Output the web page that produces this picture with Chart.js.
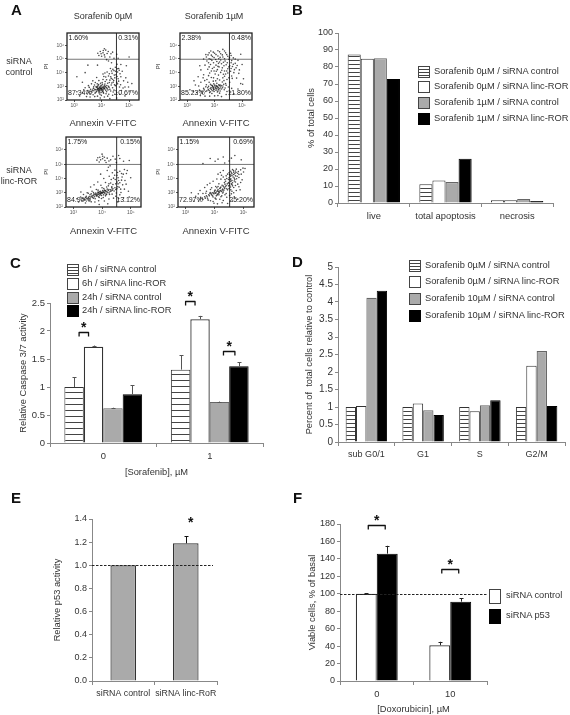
<!DOCTYPE html>
<html>
<head>
<meta charset="utf-8">
<script src="https://cdn.jsdelivr.net/npm/chart.js@4"></script>
<style>
html,body{margin:0;padding:0;background:#fff;overflow:hidden}
#page{position:relative;width:570px;height:715px;font-family:"Liberation Sans",Arial,sans-serif;color:#333;filter:blur(.35px)}
#page canvas{position:absolute}
.txt{position:absolute;white-space:nowrap;line-height:1;transform:translate(0,-50%)}
.ctr{transform:translate(-50%,-50%)}
.letter{font-size:15px;font-weight:bold;color:#111}
.sw{position:absolute;box-sizing:border-box;border:1.5px solid #444}
</style>
</head>
<body>
<div id="page"></div>
<script>
// panel A: scatter values read by eye (log10 annexin, log10 PI)
var flowCtl0 = [[3.97,2.85],[3.92,2.78],[4.02,2.92],[3.88,2.70],[4.08,2.80],[3.95,3.00],[3.85,2.88],[4.05,2.68],[3.78,2.75],[4.12,2.95],[3.90,2.60],[4.00,2.75],[3.82,2.62],[4.15,2.72],[3.93,2.93],[3.72,2.68],[4.20,2.85],[3.98,2.55],[3.87,3.05],[4.10,3.08],[3.70,2.85],[4.25,3.00],[3.80,2.98],[4.03,3.15],[3.65,2.58],[4.18,2.60],[3.94,2.42],[3.76,2.50],[4.07,2.50],[3.60,2.78],[4.30,2.78],[3.96,3.22],[4.22,3.22],[3.58,2.45],[4.35,3.10],[3.84,3.18],[4.13,3.35],[3.50,2.70],[4.40,2.90],[3.74,3.10],[3.99,2.82],[3.91,2.88],[4.04,2.79],[3.86,2.81],[4.09,2.87],[3.94,2.71],[4.01,3.02],[3.83,2.74],[4.30,3.45],[4.42,3.30],[4.05,3.50],[3.90,3.42],[4.48,3.62],[4.25,3.75],[4.38,3.95],[4.52,3.85],[4.15,3.68],[4.55,3.30],[4.60,3.55],[4.45,4.15],[4.32,4.30],[4.58,4.05],[4.50,4.40],[4.62,4.30],[4.70,3.70],[4.75,4.10],[4.20,4.05],[4.05,3.90],[4.80,3.40],[4.65,2.95],[4.72,2.70],[4.55,2.55],[4.85,2.95],[4.95,3.30],[3.40,2.90],[3.30,2.55],[3.20,2.30],[3.45,2.25],[3.75,2.25],[4.10,2.22],[4.40,2.35],[3.95,2.15],[4.30,2.10],[4.85,2.30],[4.55,2.15],[5.00,2.60],[3.10,2.60],[4.05,5.45],[4.10,5.30],[3.95,5.55],[4.15,5.65],[4.00,5.20],[4.20,5.40],[3.90,5.25],[4.30,5.15],[4.10,5.75],[4.40,5.50],[4.25,4.85],[4.45,5.05],[4.55,5.35],[5.00,5.15],[3.40,4.00],[3.30,3.30],[3.85,4.55],[4.70,4.60],[4.90,4.50],[4.47,3.12],[4.35,3.58],[4.56,4.62],[4.44,3.42],[4.28,3.28]];
var flowCtl0More = [[3.96,2.80],[4.00,2.86],[3.89,2.84],[4.06,2.90],[3.93,2.66],[4.11,2.83],[3.81,2.91],[4.03,2.62],[3.87,2.76],[4.17,2.91],[3.75,2.79],[4.14,3.01],[3.98,3.08],[3.91,2.52],[4.23,2.74],[3.67,2.72],[4.08,2.98],[3.85,2.96],[4.01,2.71],[4.19,3.06],[3.79,2.57],[3.95,2.88],[4.06,2.57],[3.71,2.96],[4.27,2.92],[3.62,2.64],[4.12,3.17],[3.89,3.13],[4.33,2.66],[3.53,2.58],[4.37,3.24],[3.77,3.28],[4.16,2.46],[3.99,2.34],[3.69,2.38],[4.26,2.42],[3.55,2.92],[4.45,2.72],[3.46,2.48],[4.50,3.05],[3.63,3.18],[4.02,3.28],[4.18,3.48],[4.40,3.52],[4.33,3.70],[4.56,3.72],[4.46,3.82],[4.28,3.92],[4.41,4.24],[4.64,4.18],[4.51,4.10],[4.57,4.28],[4.36,4.12],[4.67,3.92],[4.58,3.18],[4.62,3.38],[4.69,3.12],[4.78,2.88],[4.66,2.42],[4.42,2.58],[4.48,2.42],[3.58,2.22],[3.85,2.28],[4.22,2.28],[3.35,2.75],[3.52,3.05],[3.68,3.40],[3.82,3.65],[4.08,3.72],[4.12,3.98],[4.98,2.95],[4.88,3.62],[5.10,3.20],[3.98,5.38],[4.06,5.62],[4.12,5.15],[4.24,5.55],[4.34,5.38],[3.86,5.42],[4.18,4.95],[4.36,4.72],[4.60,5.05],[3.50,4.55],[3.10,3.70]];
var flowCtl1 = [[4.02,2.93],[3.95,2.85],[4.10,3.00],[3.88,2.78],[4.15,2.88],[4.05,2.72],[3.92,3.05],[4.20,3.10],[3.80,2.70],[4.25,2.80],[3.98,2.62],[4.12,2.65],[3.75,2.90],[4.30,3.02],[3.85,3.15],[4.08,3.22],[3.68,2.62],[4.35,2.75],[3.60,2.85],[4.18,2.50],[3.90,2.48],[3.55,2.50],[4.40,3.20],[3.70,3.12],[4.28,3.32],[3.95,3.38],[3.45,2.72],[4.45,2.62],[3.35,2.55],[4.00,2.30],[4.25,2.25],[3.65,2.28],[4.50,2.95],[3.30,3.10],[3.50,3.30],[3.72,3.50],[3.88,3.65],[4.10,3.55],[4.30,3.62],[4.45,3.50],[4.55,3.30],[4.62,3.75],[3.60,3.85],[3.82,3.98],[4.02,3.90],[4.22,4.02],[4.40,3.90],[4.58,4.10],[4.70,4.00],[4.80,3.60],[3.75,4.25],[3.92,4.30],[4.10,4.22],[4.28,4.35],[4.48,4.28],[4.65,4.45],[4.78,4.35],[3.65,4.55],[3.85,4.60],[4.05,4.55],[4.25,4.65],[4.42,4.58],[4.60,4.72],[4.75,4.68],[4.90,4.20],[3.72,4.85],[3.90,4.90],[4.08,4.82],[4.22,4.92],[4.38,4.85],[4.52,4.98],[3.80,5.02],[3.98,5.10],[4.15,5.02],[4.30,5.15],[4.48,5.20],[3.70,5.15],[3.88,5.28],[4.05,5.32],[4.22,5.38],[4.40,5.45],[3.95,5.50],[4.12,5.60],[4.30,5.70],[3.80,5.45],[4.60,5.25],[4.75,5.00],[4.95,5.35],[3.50,4.20],[3.40,3.70],[3.25,3.40],[3.10,2.75],[4.85,2.80],[4.95,3.20],[5.05,3.55],[4.70,2.45],[5.00,4.60],[3.95,2.92],[4.08,2.83],[3.87,2.91],[4.14,2.76],[4.00,3.10],[3.78,3.00],[4.22,2.95],[4.33,3.15],[3.96,2.74],[4.06,3.06],[4.17,3.05],[3.84,2.60],[4.36,4.12],[4.12,4.46],[3.98,4.12],[3.68,5.32],[4.55,4.50],[4.18,4.78]];
var flowCtl1More = [[4.03,2.86],[3.93,2.98],[4.12,2.92],[3.98,2.79],[4.19,2.82],[3.84,2.84],[4.07,2.97],[3.91,2.68],[4.24,3.05],[3.77,2.76],[4.01,3.02],[4.15,3.12],[3.72,2.68],[4.29,2.90],[3.88,3.08],[4.10,2.58],[3.62,2.74],[4.38,2.88],[3.82,2.54],[4.20,2.66],[3.97,3.18],[3.52,2.64],[4.42,3.08],[3.68,2.96],[4.34,3.42],[3.80,3.30],[4.04,3.40],[4.18,3.46],[3.64,3.42],[4.52,3.62],[4.36,3.74],[3.96,3.62],[3.78,3.78],[4.14,3.82],[4.32,3.88],[4.48,3.98],[4.64,3.58],[3.88,4.12],[4.06,4.10],[4.26,4.18],[4.44,4.12],[4.60,4.30],[4.72,4.22],[3.80,4.42],[3.98,4.40],[4.16,4.42],[4.34,4.50],[4.52,4.42],[4.68,4.62],[3.78,4.72],[3.96,4.72],[4.14,4.68],[4.32,4.76],[4.46,4.72],[4.62,4.88],[3.86,4.98],[4.04,4.96],[4.20,5.12],[4.36,5.02],[4.54,5.10],[3.92,5.18],[4.12,5.22],[4.28,5.30],[4.44,5.32],[3.76,5.30],[4.00,5.42],[4.18,5.52],[4.36,5.58],[3.86,5.58],[4.58,5.42],[4.68,5.08],[4.85,4.90],[4.82,4.52],[4.88,3.95],[5.02,3.15],[4.62,2.85],[4.58,2.58],[4.42,2.40],[4.12,2.32],[3.82,2.28],[3.48,2.32],[3.22,2.62],[3.42,3.02],[3.58,3.62],[3.46,4.50],[3.60,5.00]];
var flowLinc0 = [[3.98,3.03],[3.90,2.95],[4.06,3.08],[3.82,2.90],[4.14,3.05],[3.95,2.90],[4.02,3.15],[3.75,2.85],[4.22,3.15],[3.86,3.05],[4.10,2.95],[3.68,2.78],[4.30,3.20],[3.92,2.82],[4.18,3.25],[3.60,2.70],[4.38,3.28],[3.78,2.98],[4.05,2.85],[3.52,2.65],[4.45,3.35],[3.70,2.62],[4.25,2.98],[3.88,2.72],[3.45,2.75],[4.52,3.28],[3.62,2.92],[4.12,2.78],[3.38,2.55],[4.60,3.38],[3.55,2.48],[3.98,2.60],[3.30,2.45],[4.35,2.90],[3.80,3.22],[3.65,3.10],[4.00,3.35],[4.22,3.48],[3.48,3.00],[3.35,2.88],[3.25,2.70],[3.18,2.35],[3.42,2.28],[3.75,2.35],[4.08,2.42],[4.40,2.62],[4.62,2.85],[4.75,2.65],[4.55,2.35],[4.20,2.22],[3.90,2.18],[4.30,3.68],[4.48,3.62],[4.12,3.72],[4.58,3.85],[4.40,4.02],[4.65,3.25],[4.72,3.55],[4.25,4.15],[4.52,4.22],[4.70,4.10],[4.80,3.85],[4.62,4.50],[4.45,4.58],[4.85,4.35],[4.78,4.62],[4.92,3.10],[4.95,2.70],[3.85,3.75],[3.60,3.40],[3.95,4.30],[4.18,4.55],[5.00,4.05],[3.85,5.45],[3.95,5.30],[4.02,5.55],[4.10,5.25],[3.90,5.15],[4.18,5.42],[4.30,5.30],[4.00,5.70],[4.38,5.55],[4.50,5.12],[4.62,5.40],[4.75,5.20],[4.95,5.25],[4.28,4.88],[3.96,3.00],[3.88,3.02],[4.04,3.00],[4.12,3.12],[3.80,2.80],[3.72,2.92],[3.94,3.10],[4.16,2.90],[4.28,3.08],[3.84,2.84],[4.00,2.96],[4.08,3.18],[3.58,2.58],[4.42,3.12],[4.34,3.42],[4.56,3.62],[4.50,2.98],[4.68,4.35],[4.46,3.92]];
var flowLinc0More = [[3.99,2.98],[3.92,3.06],[4.08,3.02],[3.85,2.98],[4.17,3.10],[3.78,2.90],[4.02,3.04],[3.94,2.96],[4.24,3.22],[3.70,2.84],[4.11,3.16],[3.88,2.88],[4.32,3.12],[3.64,2.76],[4.20,3.02],[3.74,2.72],[4.36,3.18],[3.82,2.76],[3.98,2.80],[3.55,2.74],[4.48,3.22],[3.66,2.66],[4.14,2.86],[3.90,2.66],[3.48,2.60],[4.55,3.42],[3.58,2.86],[4.26,2.88],[3.42,2.68],[3.76,2.58],[4.04,2.66],[3.32,2.60],[4.34,3.34],[3.86,3.18],[3.70,3.02],[4.06,3.30],[4.16,3.40],[3.52,2.96],[3.40,2.48],[3.62,2.36],[3.88,2.44],[4.24,2.56],[4.48,2.75],[4.66,3.02],[4.58,2.60],[4.38,3.58],[4.52,3.75],[4.24,3.62],[4.62,3.70],[4.44,4.22],[4.56,4.05],[4.68,3.88],[4.32,3.92],[4.74,4.30],[4.54,4.42],[4.36,4.40],[4.78,3.25],[4.84,3.60],[4.88,4.55],[3.96,3.52],[4.06,4.00],[3.72,3.55],[4.02,5.38],[3.92,5.48],[4.14,5.12],[4.08,5.48],[4.24,5.22],[3.82,5.28],[4.46,5.35],[4.58,5.60],[4.22,4.78],[3.26,3.05],[3.12,2.58]];
var flowLinc1 = [[4.13,3.08],[4.05,3.00],[4.20,3.15],[3.98,2.92],[4.28,3.25],[4.10,2.90],[4.22,3.40],[3.90,2.85],[4.35,3.30],[4.02,3.18],[4.15,2.85],[3.82,2.78],[4.40,3.50],[3.95,2.70],[4.30,3.05],[3.75,2.70],[4.45,3.20],[4.08,3.35],[3.68,2.62],[4.50,3.65],[3.85,3.02],[4.25,2.78],[3.60,2.52],[4.55,3.40],[3.78,2.48],[4.05,2.55],[3.52,2.68],[4.40,2.95],[3.45,2.42],[3.95,2.38],[4.30,2.45],[3.72,3.10],[3.60,2.95],[3.90,3.35],[4.15,3.62],[4.38,3.80],[4.55,3.90],[4.62,3.70],[4.50,4.05],[4.60,4.20],[4.68,4.02],[4.58,4.40],[4.70,4.35],[4.78,4.15],[4.65,4.55],[4.82,4.48],[4.75,4.65],[4.90,4.60],[4.45,4.30],[4.30,4.10],[4.22,3.95],[4.42,4.00],[4.55,4.15],[4.48,3.72],[4.62,3.48],[4.72,3.75],[4.80,3.60],[4.60,3.10],[4.75,3.15],[4.52,2.80],[4.68,2.72],[4.88,3.20],[4.95,3.90],[5.00,4.45],[5.05,4.70],[4.30,4.55],[4.12,4.30],[3.95,3.80],[3.75,3.55],[3.50,3.15],[3.35,2.75],[3.28,2.40],[3.20,3.00],[4.10,2.22],[4.45,2.25],[4.80,2.55],[3.85,5.40],[3.60,5.05],[4.12,5.35],[4.30,5.50],[4.50,5.22],[4.70,5.60],[4.35,5.08],[4.92,5.30],[4.08,3.10],[4.16,3.02],[4.00,3.05],[4.24,3.08],[4.12,3.22],[3.92,3.00],[4.32,3.18],[4.18,3.30],[4.06,2.78],[4.48,3.48],[4.58,3.62],[4.52,4.28],[4.62,4.62],[4.66,4.28],[4.56,3.98],[4.70,3.92],[4.36,3.60],[4.26,3.52],[4.74,4.42],[4.84,4.28]];
var flowLinc1More = [[4.11,3.14],[4.03,2.96],[4.18,3.10],[3.96,2.98],[4.26,3.18],[4.14,2.96],[4.20,3.34],[3.88,2.92],[4.33,3.38],[4.00,3.12],[4.09,2.84],[3.80,2.86],[4.38,3.42],[3.93,2.78],[4.28,2.98],[3.72,2.78],[4.42,3.28],[4.12,3.44],[3.66,2.72],[4.52,3.52],[3.84,2.94],[4.22,2.72],[3.58,2.62],[4.50,3.30],[3.76,2.58],[4.02,2.62],[3.50,2.56],[4.36,2.86],[3.86,2.44],[4.18,2.54],[3.70,2.96],[3.86,3.22],[4.04,3.44],[4.30,3.46],[4.44,3.62],[4.34,3.72],[4.56,3.78],[4.60,3.86],[4.48,3.92],[4.64,4.10],[4.54,4.24],[4.60,4.32],[4.72,4.18],[4.66,4.44],[4.56,4.50],[4.72,4.52],[4.80,4.36],[4.68,3.82],[4.76,3.98],[4.84,4.06],[4.40,4.18],[4.50,4.40],[4.24,4.22],[4.36,3.92],[4.60,3.58],[4.66,3.36],[4.72,3.50],[4.56,3.20],[4.66,3.00],[4.58,2.92],[4.42,2.68],[4.84,3.42],[4.90,3.72],[4.92,4.30],[4.98,4.72],[4.20,4.42],[4.08,3.96],[3.84,3.66],[3.66,3.36],[3.44,2.92],[3.98,2.26],[4.26,2.30],[4.62,2.42],[4.02,5.20],[4.58,5.42]];
var flowNotes = [['1.60%','0.31%','87.34%','10.67%'],['2.38%','0.48%','85.23%','11.80%'],['1.75%','0.15%','84.90%','13.12%'],['1.15%','0.69%','72.97%','25.20%']];
var flowXTicks = [3, 4, 5];
var flowYTicks = [2, 3, 4, 5, 6];
var flowGateX = [4.54, 4.54, 4.51, 4.52];
var flowGateY = 4.98;

// panel B
var catsB = ['live', 'total apoptosis', 'necrosis'];
var namesB = ['Sorafenib 0µM / siRNA control', 'Sorafenib 0µM / siRNA linc-ROR', 'Sorafenib 1µM / siRNA control', 'Sorafenib 1µM / siRNA linc-ROR'];
var b0 = [87.3, 11, 1.6];
var b1 = [84.9, 13.3, 1.6];
var b2 = [85.2, 12.3, 2.4];
var b3 = [72.9, 26, 1.2];

// panel C
var catsC = ['0', '1'];
var namesC = ['6h / siRNA control', '6h / siRNA linc-ROR', '24h / siRNA control', '24h / siRNA linc-ROR'];
var c0 = [1.0, 1.31];
var c1 = [1.72, 2.21];
var c2 = [0.62, 0.73];
var c3 = [0.87, 1.37];
var c0Top = [1.17, 1.57];
var c1Top = [1.74, 2.27];
var c2Top = [0.63, 0.74];
var c3Top = [1.03, 1.44];

// panel D
var catsD = ['sub G0/1', 'G1', 'S', 'G2/M'];
var namesD = ['Sorafenib 0µM / siRNA control', 'Sorafenib 0µM / siRNA linc-ROR', 'Sorafenib 10µM / siRNA control', 'Sorafenib 10µM / siRNA linc-ROR'];
var d0 = [1, 1, 1, 1];
var d1 = [1.03, 1.1, 0.88, 2.18];
var d2 = [4.12, 0.91, 1.05, 2.6];
var d3 = [4.32, 0.77, 1.19, 1.03];

// panel E
var catsE = ['siRNA control', 'siRNA linc-RoR'];
var e0 = [1.0, 1.19];
var e0Top = [null, 1.25];

// panel F
var catsF = ['0', '10'];
var namesF = ['siRNA control', 'siRNA p53'];
var f0 = [100, 41];
var f1 = [146, 91];
var f0Top = [100.5, 45];
var f1Top = [155, 95];

Chart.defaults.font.family = '"Liberation Sans", Arial, sans-serif';
Chart.defaults.color = '#333';
var page = document.getElementById('page');
var GRAY = '#aaaaaa', AXIS = '#888';

function text(s, x, y, size, cls) {
    var el = document.createElement('div');
    el.className = 'txt ' + (cls || '');
    el.style.left = x + 'px';
    el.style.top = y + 'px';
    if (size) el.style.fontSize = size + 'px';
    el.textContent = s;
    page.appendChild(el);
}

function letter(s, x, y) {
    var el = document.createElement('div');
    el.className = 'txt letter';
    el.style.left = x + 'px';
    el.style.top = y + 'px';
    el.textContent = s;
    page.appendChild(el);
}

// kind: 0 hatch, 1 white, 2 gray, 3 black
function legend(names, kinds, x, ys, tx, w, h) {
    names.forEach(function (n, i) {
        var sw = document.createElement('div');
        sw.className = 'sw';
        sw.style.cssText = 'left:' + x + 'px;top:' + (ys[i] - h / 2) + 'px;width:' + w + 'px;height:' + h + 'px;';
        if (kinds[i] == 0) sw.style.background = 'repeating-linear-gradient(#fff 0 2px,#444 2px 3px)';
        if (kinds[i] == 1) sw.style.background = '#fff';
        if (kinds[i] == 2) sw.style.background = GRAY;
        if (kinds[i] == 3) { sw.style.background = '#000'; sw.style.borderColor = '#000'; }
        page.appendChild(sw);
        text(n, tx, ys[i], 9.3);
    });
}

function hatch(period) {
    var c = document.createElement('canvas');
    c.width = 4; c.height = period;
    var g = c.getContext('2d');
    g.fillStyle = '#fff';
    g.fillRect(0, 0, 4, period);
    g.fillStyle = '#444';
    g.fillRect(0, 0, 4, 1);
    return g.createPattern(c, 'repeat');
}

function barSet(data, kind, period, thin) {
    var styles = [hatch(period), '#fff', GRAY, '#000'];
    return {
        data: data,
        backgroundColor: styles[kind],
        borderColor: kind == 3 ? '#000' : (kind == 2 ? '#666' : '#333'),
        borderWidth: thin || 1
    };
}

// error whiskers, brackets, stars, dashed reference line
function extras(cfg) {
    return {
        id: 'extras',
        afterDatasetsDraw: function (chart) {
            var ctx = chart.ctx, y = chart.scales.y, area = chart.chartArea;
            ctx.save();
            if (cfg.ref !== undefined) {
                ctx.strokeStyle = '#222';
                ctx.lineWidth = 1;
                ctx.setLineDash([2.5, 1.5]);
                ctx.beginPath();
                ctx.moveTo(area.left, Math.round(y.getPixelForValue(cfg.ref)) + .5);
                ctx.lineTo(area.right + (cfg.refExtra || 0), Math.round(y.getPixelForValue(cfg.ref)) + .5);
                ctx.stroke();
                ctx.setLineDash([]);
            }
            (cfg.tops || []).forEach(function (tops, ds) {
                tops.forEach(function (t, i) {
                    if (t === null) return;
                    var bar = chart.getDatasetMeta(ds).data[i];
                    var py = y.getPixelForValue(t);
                    ctx.strokeStyle = cfg.errColor || '#444';
                    ctx.lineWidth = 1;
                    ctx.beginPath();
                    ctx.moveTo(Math.round(bar.x) + .5, bar.y);
                    ctx.lineTo(Math.round(bar.x) + .5, py);
                    ctx.moveTo(Math.round(bar.x) - 1.5, Math.round(py) + .5);
                    ctx.lineTo(Math.round(bar.x) + 2.5, Math.round(py) + .5);
                    ctx.stroke();
                });
            });
            (cfg.brackets || []).forEach(function (b) {
                var l = chart.getDatasetMeta(b.a).data[b.cat].x + b.inset;
                var r = chart.getDatasetMeta(b.b).data[b.cat].x - b.inset;
                var py = Math.round(y.getPixelForValue(b.y)) + .5;
                ctx.strokeStyle = '#111';
                ctx.lineWidth = 1.3;
                ctx.lineJoin = 'round';
                ctx.beginPath();
                ctx.moveTo(l, py + 4);
                ctx.lineTo(l, py);
                ctx.lineTo(r, py);
                ctx.lineTo(r, py + 4);
                ctx.stroke();
                ctx.fillStyle = '#111';
                ctx.font = 'bold 14px "Liberation Sans"';
                ctx.textAlign = 'center';
                ctx.textBaseline = 'alphabetic';
                ctx.fillText('*', (l + r) / 2, py - 1);
            });
            (cfg.stars || []).forEach(function (s) {
                var bar = chart.getDatasetMeta(s.ds).data[s.cat];
                ctx.fillStyle = '#111';
                ctx.font = 'bold 14px "Liberation Sans"';
                ctx.textAlign = 'center';
                ctx.fillText('*', bar.x + s.dx, y.getPixelForValue(s.y));
            });
            ctx.restore();
        }
    };
}

function makeCanvas(box) {
    var cv = document.createElement('canvas');
    cv.width = box.r - box.x;
    cv.height = box.b - box.y;
    cv.style.left = box.x + 'px';
    cv.style.top = box.y + 'px';
    cv.style.width = cv.width + 'px';
    cv.style.height = cv.height + 'px';
    page.appendChild(cv);
    return cv;
}

function barChart(box, plot, cats, sets, opt) {
    new Chart(makeCanvas(box), {
        type: 'bar',
        data: { labels: cats, datasets: sets },
        plugins: [extras(opt.extras || {})],
        options: {
            responsive: false,
            animation: false,
            devicePixelRatio: 1,
            barPercentage: opt.barPct || 1,
            categoryPercentage: opt.catPct || 0.73,
            layout: { padding: { top: plot.top - box.y, right: box.r - plot.right, left: 0, bottom: 0 } },
            plugins: { legend: { display: false }, tooltip: { enabled: false } },
            scales: {
                x: {
                    grid: { offset: true, drawOnChartArea: false, color: AXIS, tickLength: 4 },
                    border: { color: AXIS, width: 1 },
                    ticks: { font: { size: opt.xSize || 9.4 }, color: '#333', padding: 3.5, maxRotation: 0, autoSkip: false },
                    title: opt.xTitle ? { display: true, text: opt.xTitle, font: { size: 9.3 }, color: '#333', padding: 0 } : { display: false },
                    afterFit: function (s) { s.height = box.b - plot.bottom; }
                },
                y: {
                    min: opt.min, max: opt.max,
                    grid: { drawOnChartArea: false, color: AXIS, tickLength: 3 },
                    border: { color: AXIS, width: 1 },
                    ticks: { font: { size: opt.ySize || 9.5 }, color: '#333', padding: 2, stepSize: opt.step, callback: opt.fmt },
                    title: { display: true, text: opt.yTitle, font: { size: 9.3 }, color: '#333', padding: 0 },
                    afterFit: function (s) { s.width = plot.left - box.x; }
                }
            }
        }
    });
}

var SUP = { 2: '²', 3: '³', 4: '⁴', 5: '⁵', 6: '⁶' };

function flowPlot(pts, notes, gateX, box, plot) {
    new Chart(makeCanvas(box), {
        type: 'scatter',
        data: { datasets: [
            { data: pts.map(function (p) { return { x: p[0], y: p[1] }; }), pointRadius: 0.8, pointBorderWidth: 0, pointBackgroundColor: 'rgba(15,15,15,.75)' },
            { data: [{ x: gateX, y: 2 }, { x: gateX, y: 6.9 }], showLine: true, pointRadius: 0, borderColor: '#333', borderWidth: 1 },
            { data: [{ x: 2.74, y: flowGateY }, { x: 5.36, y: flowGateY }], showLine: true, pointRadius: 0, borderColor: '#777', borderWidth: 1 }
        ] },
        plugins: [{
            id: 'frame',
            afterDatasetsDraw: function (chart) {
                var a = chart.chartArea, ctx = chart.ctx;
                ctx.save();
                ctx.strokeStyle = '#222';
                ctx.lineWidth = 1.3;
                ctx.strokeRect(a.left, a.top, a.right - a.left, a.bottom - a.top);
                ctx.fillStyle = '#222';
                ctx.font = '7px "Liberation Sans"';
                ctx.textBaseline = 'middle';
                ctx.textAlign = 'left';
                ctx.fillText(notes[0], a.left + 1.5, a.top + 5);
                ctx.fillText(notes[2], a.left + 1, a.bottom - 7);
                ctx.textAlign = 'right';
                ctx.fillText(notes[1], a.right - 1, a.top + 5);
                ctx.fillText(notes[3], a.right - 1, a.bottom - 7);
                ctx.restore();
            }
        }],
        options: {
            responsive: false,
            animation: false,
            devicePixelRatio: 1,
            layout: { padding: { top: plot.top - box.y, right: box.r - plot.right, left: 0, bottom: 0 } },
            plugins: { legend: { display: false }, tooltip: { enabled: false } },
            scales: {
                x: {
                    type: 'linear', min: 2.74, max: 5.36,
                    afterBuildTicks: function (s) { s.ticks = flowXTicks.map(function (v) { return { value: v }; }); },
                    grid: { drawOnChartArea: false, color: '#555', tickLength: 2 },
                    border: { display: false },
                    ticks: { font: { size: 5 }, color: '#555', padding: 1, maxRotation: 0, callback: function (v) { return '10' + SUP[v]; } },
                    title: { display: true, text: 'Annexin V-FITC', font: { size: 9.5 }, color: '#333', padding: 0 },
                    afterFit: function (s) { s.height = box.b - plot.bottom; }
                },
                y: {
                    type: 'linear', min: 2, max: 6.9,
                    afterBuildTicks: function (s) { s.ticks = flowYTicks.map(function (v) { return { value: v }; }); },
                    grid: { drawOnChartArea: false, color: '#555', tickLength: 2 },
                    border: { display: false },
                    ticks: { font: { size: 5 }, color: '#555', padding: 1, callback: function (v) { return '10' + SUP[v]; } },
                    title: { display: true, text: 'PI', font: { size: 6 }, color: '#333', padding: 0 },
                    afterFit: function (s) { s.width = plot.left - box.x; }
                }
            }
        }
    });
}

// A
letter('A', 11, 9);
text('Sorafenib 0µM', 103, 16, 9, 'ctr');
text('Sorafenib 1µM', 214, 16, 9, 'ctr');
text('siRNA', 19, 61, 9, 'ctr');
text('control', 19, 72, 9, 'ctr');
text('siRNA', 19, 170, 9, 'ctr');
text('linc-ROR', 19, 181, 9, 'ctr');
flowPlot(flowCtl0.concat(flowCtl0More), flowNotes[0], flowGateX[0], { x: 43, y: 22, r: 150, b: 129 }, { left: 67, top: 33, right: 139, bottom: 100 });
flowPlot(flowCtl1.concat(flowCtl1More), flowNotes[1], flowGateX[1], { x: 155, y: 22, r: 262, b: 129 }, { left: 180, top: 33, right: 252, bottom: 100 });
flowPlot(flowLinc0.concat(flowLinc0More), flowNotes[2], flowGateX[2], { x: 43, y: 127, r: 150, b: 237 }, { left: 66, top: 137, right: 141, bottom: 207 });
flowPlot(flowLinc1.concat(flowLinc1More), flowNotes[3], flowGateX[3], { x: 155, y: 127, r: 262, b: 237 }, { left: 178, top: 137, right: 254, bottom: 207 });

// B
letter('B', 292, 9);
barChart({ x: 306, y: 20, r: 565, b: 225 }, { left: 338, top: 33, right: 553, bottom: 203 }, catsB,
    [barSet(b0, 0, 4), barSet(b1, 1, 4), barSet(b2, 2, 4, 1.2), barSet(b3, 3, 4)],
    { min: 0, max: 100, step: 10, ySize: 9, yTitle: '% of total cells' });
legend(namesB, [0, 1, 2, 3], 418, [72, 87, 103, 119], 434, 12, 12);

// C
letter('C', 10, 262);
barChart({ x: 18, y: 290, r: 275, b: 478 }, { left: 50, top: 303, right: 263, bottom: 443 }, catsC,
    [barSet(c0, 0, 6), barSet(c1, 1, 6, 1.3), barSet(c2, 2, 6), barSet(c3, 3, 6)],
    { min: 0, max: 2.5, step: 0.5, ySize: 9.5, yTitle: 'Relative Caspase 3/7 activity', xTitle: '[Sorafenib], µM',
      extras: { tops: [c0Top, c1Top, c2Top, c3Top], errColor: '#555',
        brackets: [{ cat: 0, a: 0, b: 1, y: 1.98, inset: 5 }, { cat: 1, a: 0, b: 1, y: 2.54, inset: 5 }, { cat: 1, a: 2, b: 3, y: 1.65, inset: 4 }] } });
legend(namesC, [0, 1, 2, 3], 67, [270, 284, 298, 311], 82, 12, 12);

// D
letter('D', 292, 261);
barChart({ x: 304, y: 255, r: 570, b: 462 }, { left: 338, top: 267, right: 565, bottom: 442 }, catsD,
    [barSet(d0, 0, 4), barSet(d1, 1, 4), barSet(d2, 2, 4, 1.2), barSet(d3, 3, 4)],
    { min: 0, max: 5, step: 0.5, ySize: 10, xSize: 9, yTitle: 'Percent of  total cells relative to control' });
legend(namesD, [0, 1, 2, 3], 409, [266, 282, 299, 316], 425, 12, 12);

// E
letter('E', 11, 497);
barChart({ x: 52, y: 505, r: 225, b: 705 }, { left: 92, top: 519, right: 217, bottom: 681 }, catsE,
    [{ data: e0, backgroundColor: GRAY, borderColor: '#333', borderWidth: 1.2 }],
    { min: 0, max: 1.4, step: 0.2, catPct: 1, barPct: 0.41, ySize: 9, xSize: 8.8, yTitle: 'Relative p53 activity',
      fmt: function (v) { return v.toFixed(1); },
      extras: { ref: 1, refExtra: -4, tops: [e0Top], errColor: '#111', stars: [{ ds: 0, cat: 1, y: 1.33, dx: 5 }] } });

// F
letter('F', 293, 497);
barChart({ x: 307, y: 510, r: 495, b: 715 }, { left: 340, top: 524, right: 487, bottom: 681 }, catsF,
    [barSet(f0, 1, 4, 1.2), barSet(f1, 3, 4)],
    { min: 0, max: 180, step: 20, catPct: 0.57, ySize: 9, yTitle: 'Viable cells, % of basal', xTitle: '[Doxorubicin], µM',
      extras: { ref: 100, tops: [f0Top, f1Top], errColor: '#222',
        brackets: [{ cat: 0, a: 0, b: 1, y: 179, inset: 2 }, { cat: 1, a: 0, b: 1, y: 128, inset: 2 }] } });
legend(namesF, [1, 3], 489, [596, 616], 506, 12, 15);
</script>
</body>
</html>
